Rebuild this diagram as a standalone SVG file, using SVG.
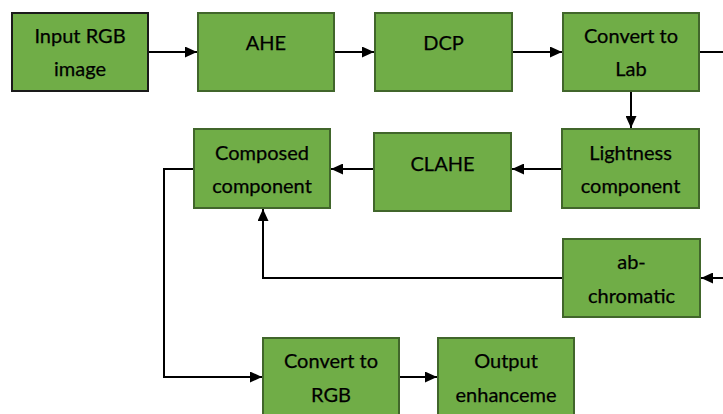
<svg xmlns="http://www.w3.org/2000/svg" width="723" height="414" viewBox="0 0 723 414">
  <defs>
    <style>
      .box { fill: #70ad47; stroke: #41662b; stroke-width: 2; }
      .box.dark { stroke: #1a1a1a; }
      .lbl { font-family: Lato, "Liberation Sans", sans-serif; font-size: 20px; fill: #000; text-anchor: middle; stroke: #000; stroke-width: 0.25; }
      .wire { fill: none; stroke: #000; stroke-width: 2; }
    </style>
    <marker id="arrow" viewBox="0 0 12 11" refX="12" refY="5.5" markerWidth="12" markerHeight="11" markerUnits="userSpaceOnUse" orient="auto">
      <path d="M0,0 L12,5.5 L0,11 Z" fill="#000"/>
    </marker>
  </defs>
  <rect width="723" height="414" fill="#fff"/>

  <g id="connectors">
    <line class="wire" x1="148" y1="52" x2="197" y2="52" marker-end="url(#arrow)"/>
    <line class="wire" x1="334" y1="52" x2="374" y2="52" marker-end="url(#arrow)"/>
    <line class="wire" x1="512" y1="52" x2="562" y2="52" marker-end="url(#arrow)"/>
    <line class="wire" x1="699" y1="52" x2="723" y2="52"/>
    <line class="wire" x1="631" y1="91" x2="631" y2="128" marker-end="url(#arrow)"/>
    <line class="wire" x1="562" y1="169" x2="512" y2="169" marker-end="url(#arrow)"/>
    <line class="wire" x1="374" y1="169" x2="331" y2="169" marker-end="url(#arrow)"/>
    <line class="wire" x1="723" y1="278" x2="701" y2="278" marker-end="url(#arrow)"/>
    <polyline class="wire" points="563,278 263,278 263,209" marker-end="url(#arrow)"/>
    <polyline class="wire" points="194,169 164,169 164,377 262,377" marker-end="url(#arrow)"/>
    <line class="wire" x1="399" y1="377" x2="437" y2="377" marker-end="url(#arrow)"/>
  </g>

  <g id="input">
    <rect class="box dark" x="12" y="13" width="136" height="78"/>
    <text class="lbl" x="80" y="43">Input RGB</text>
    <text class="lbl" x="80" y="76">image</text>
  </g>
  <g id="ahe">
    <rect class="box" x="198" y="13" width="136" height="78"/>
    <text class="lbl" x="266" y="50">AHE</text>
  </g>
  <g id="dcp">
    <rect class="box" x="375" y="13" width="137" height="78"/>
    <text class="lbl" x="443.5" y="50">DCP</text>
  </g>
  <g id="to-lab">
    <rect class="box" x="563" y="13" width="136" height="78"/>
    <text class="lbl" x="631" y="43">Convert to</text>
    <text class="lbl" x="631" y="76">Lab</text>
  </g>
  <g id="lightness">
    <rect class="box" x="562" y="129" width="137" height="79"/>
    <text class="lbl" x="630.5" y="160">Lightness</text>
    <text class="lbl" x="630.5" y="193">component</text>
  </g>
  <g id="clahe">
    <rect class="box" x="374" y="133" width="137" height="78"/>
    <text class="lbl" x="442.5" y="171">CLAHE</text>
  </g>
  <g id="composed">
    <rect class="box" x="194" y="129" width="136" height="79"/>
    <text class="lbl" x="262" y="160">Composed</text>
    <text class="lbl" x="262" y="193">component</text>
  </g>
  <g id="ab-chromatic">
    <rect class="box" x="563" y="239" width="137" height="78"/>
    <text class="lbl" x="631.5" y="269">ab-</text>
    <text class="lbl" x="631.5" y="303">chromatic</text>
  </g>
  <g id="to-rgb">
    <rect class="box" x="263" y="338" width="136" height="80"/>
    <text class="lbl" x="331" y="368">Convert to</text>
    <text class="lbl" x="331" y="402">RGB</text>
  </g>
  <g id="output">
    <rect class="box" x="438" y="338" width="136" height="80"/>
    <text class="lbl" x="506" y="368">Output</text>
    <text class="lbl" x="506" y="402">enhanceme</text>
  </g>
</svg>
